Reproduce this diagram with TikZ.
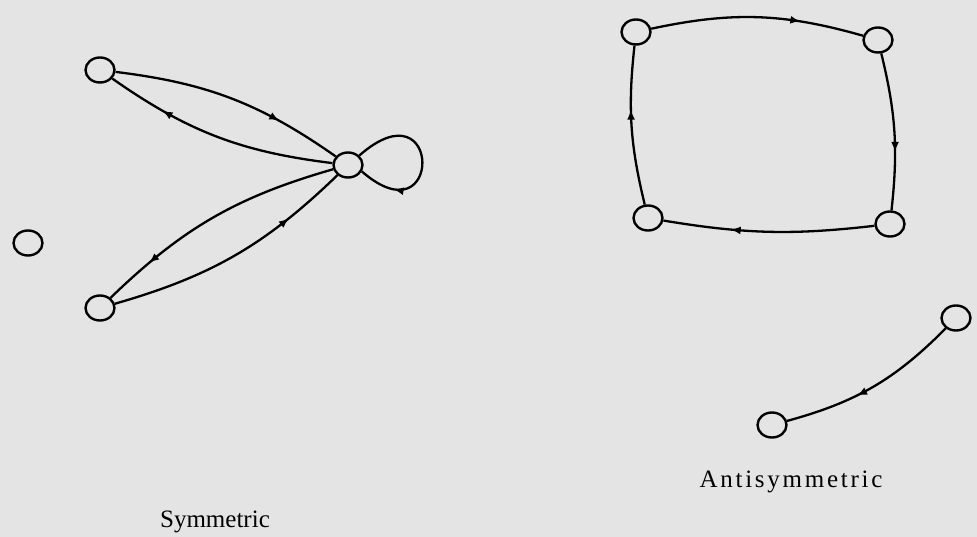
\documentclass[tikz,border=0pt]{standalone}
\usepackage{fontspec}
\setmainfont{Liberation Serif}
\newfontfamily\widefont[LetterSpace=11]{Liberation Serif}
\usetikzlibrary{shapes.geometric, decorations.markings, arrows.meta}
\definecolor{paper}{HTML}{E4E4E4}
\begin{document}
\begin{tikzpicture}[x=1pt, y=-1pt, >=Latex,
          vert/.style={draw, ellipse, line width=2.4pt, fill=paper, minimum width=29pt, minimum height=25pt, inner sep=0pt},
          edge/.style={line width=2.3pt, postaction={decorate},
            decoration={markings, mark=at position #1 with {\arrow{Latex[length=10pt,width=8pt]}}}},
          edge/.default=0.7,
          caption/.style={font=\fontsize{25}{29}\selectfont}]
        \fill[paper] (0,0) rectangle (977,537);
        \useasboundingbox (0,0) rectangle (977,537);
        % symmetric relation
        \node[vert] (s1) at (100,70) {};
        \node[vert] (s2) at (348,165) {};
        \node[vert] (s3) at (100,308) {};
        \node[vert] (s4) at (28,243) {};
        % antisymmetric relation
        \node[vert] (a1) at (636,32) {};
        \node[vert] (a2) at (878,40) {};
        \node[vert] (a3) at (648,218) {};
        \node[vert] (a4) at (890,224) {};
        \node[vert] (a5) at (956,318) {};
        \node[vert] (a6) at (772,425) {};
        \draw[edge=0.72] (s1) to[bend left=14] (s2);
        \draw[edge=0.75] (s2) to[bend left=14] (s1);
        \draw[edge=0.8] (s2) to[bend right=14] (s3);
        \draw[edge=0.75] (s3) to[bend right=14] (s2);
        \draw[edge=0.78] (s2.40) .. controls (443,82) and (443,242) .. (s2.-25);
        \draw[edge=0.7] (a1) to[bend left=14] (a2);
        \draw[edge=0.63] (a2) to[bend left=10] (a4);
        \draw[edge=0.68] (a4) to[bend left=8] (a3);
        \draw[edge=0.6] (a3) to[bend left=10] (a1);
        \draw[edge=0.6] (a5) to[bend left=15] (a6);
        \node[caption] (symlab) at (215,522) {Symmetric};
        \node[caption] (antilab) at (791,482) {\widefont Antisymmetric};
      \end{tikzpicture}
\end{document}
